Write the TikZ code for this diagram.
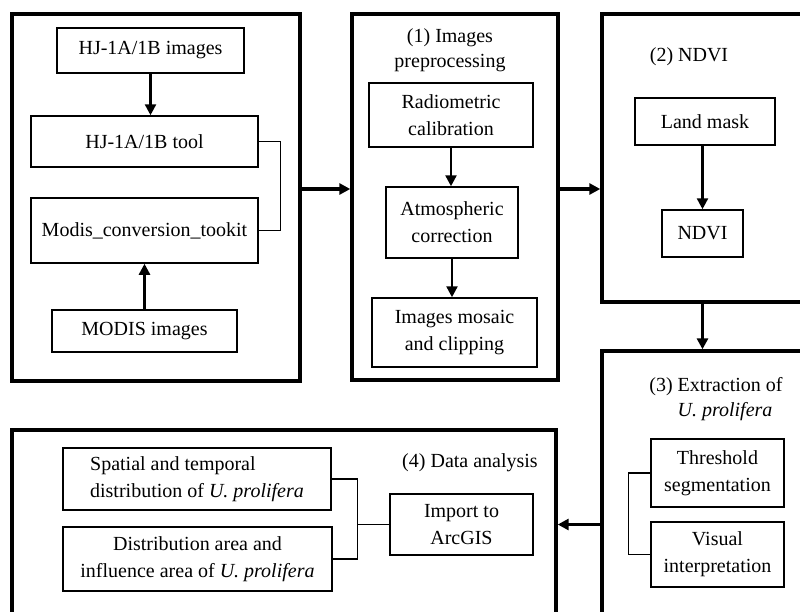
\documentclass[tikz,border=0pt]{standalone}
\usepackage{fontspec}
\setmainfont{Liberation Serif}
\usetikzlibrary{positioning,calc,arrows.meta}
\tikzset{panel/.style={draw, line width=1.7pt, inner sep=0pt}}
\tikzset{bx/.style={draw, line width=0.75pt, inner sep=0pt, align=center, font=\fontsize{10}{13.5}\selectfont}}
\tikzset{sz/.style 2 args={minimum width=#1, minimum height=#2}}
\tikzset{ttl/.style={align=center, inner sep=0pt, font=\fontsize{10}{12.5}\selectfont}}
\tikzset{arr/.style={draw, line width=1.2pt, -{Triangle[length=5.5pt,width=5.5pt]}}}
\tikzset{arrp/.style={arr, line width=1.6pt}}
\tikzset{brk/.style={draw, line width=0.6pt}}

\begin{document}
\begin{tikzpicture}[x=0.5pt, y=-0.5pt]
			\useasboundingbox (0,0) rectangle (800,612);
			% panels
			\node[panel, sz={144pt}{183.5pt}] (pA) at (156,197.5) {};
			\node[panel, sz={103pt}{183pt}] (pB) at (455,197) {};
			\node[panel, sz={114pt}{144pt}] (pC) at (716,158) {};
			\node[panel, sz={114pt}{144.5pt}] (pE) at (716,495.5) {};
			\node[panel, sz={272pt}{105pt}] (pD) at (284,535) {};
			%
			\node[bx, sz={93.5pt}{22.5pt}] (img1) at (150.5,50.5) {HJ-1A/1B images};
			\node[bx, sz={113.5pt}{25.5pt}] (tool) at (144.5,141.5) {HJ-1A/1B tool};
			\node[bx, sz={113.5pt}{32.5pt}] (conv) at (144.5,230.5) {Modis\_conversion\_tookit};
			\node[bx, sz={92.5pt}{21pt}] (modis) at (144.5,331) {MODIS images};
			\draw[arr] (img1.south) -- (img1.south |- tool.north);
			\draw[arr] (modis.north) -- (modis.north |- conv.south);
			\draw[brk] (tool.east) -| ($(conv.east)+(11pt,0)$) -- (conv.east);
			%
			\node[ttl] (tB) at (450,50) {(1) Images\\preprocessing};
			\node[bx, sz={82pt}{32pt}] (rad) at (451,115) {Radiometric\\calibration};
			\node[bx, sz={66pt}{35.5pt}] (atm) at (452,222.5) {Atmospheric\\correction};
			\node[bx, sz={82.5pt}{34.5pt}] (mos) at (454.5,332.5) {Images mosaic\\and clipping};
			\draw[arr] (rad.south) -- (rad.south |- atm.north);
			\draw[arr] (atm.south) -- (atm.south |- mos.north);
			%
			\node[ttl] (tC) at (689,57) {(2) NDVI};
			\node[bx, sz={70pt}{23.5pt}] (land) at (705,121.5) {Land mask};
			\node[bx, sz={40.5pt}{23.5pt}] (ndvi) at (702.5,233.5) {NDVI};
			\draw[arr] (ndvi |- land.south) -- (ndvi.north);
			%
			\node[ttl] (tE) at (716,399) {(3) Extraction of\\\hspace*{9pt}\textit{U. prolifera}};
			\node[bx, sz={66.5pt}{34pt}] (thr) at (717.5,473) {Threshold\\segmentation};
			\node[bx, sz={66.5pt}{32.5pt}] (vis) at (717.5,554.5) {Visual\\interpretation};
			\draw[brk] (thr.west) -| ($(vis.west)+(-11pt,0)$) -- (vis.west);
			%
			\node[ttl] (tD) at (470,463) {(4) Data analysis};
			\node[bx, sz={134pt}{31pt}, align=left] (spat) at (197,479) {Spatial and temporal\\distribution of \textit{U. prolifera}};
			\node[bx, sz={134.5pt}{32pt}] (dist) at (197.5,559) {Distribution area and\\influence area of \textit{U. prolifera}};
			\node[bx, sz={71.5pt}{30.5pt}] (imp) at (461.5,524.5) {Import to\\ArcGIS};
			\coordinate (dj) at ($(spat.east)+(13pt,0)$);
			\draw[brk] (spat.east) -- (dj) |- (dist.east);
			\draw[brk] (imp.west) -- (imp.west -| dj);
			%
			\draw[arrp] ([yshift=4.25pt]pA.east) -- ([yshift=4.25pt]pA.east -| pB.west);
			\draw[arrp] ([yshift=4pt]pB.east) -- ([yshift=4pt]pB.east -| pC.west);
			\draw[arrp] (ndvi |- pC.south) -- (ndvi |- pE.north);
			\draw[arrp] (imp -| pE.west) -- (imp -| pD.east);
		\end{tikzpicture}
\end{document}
